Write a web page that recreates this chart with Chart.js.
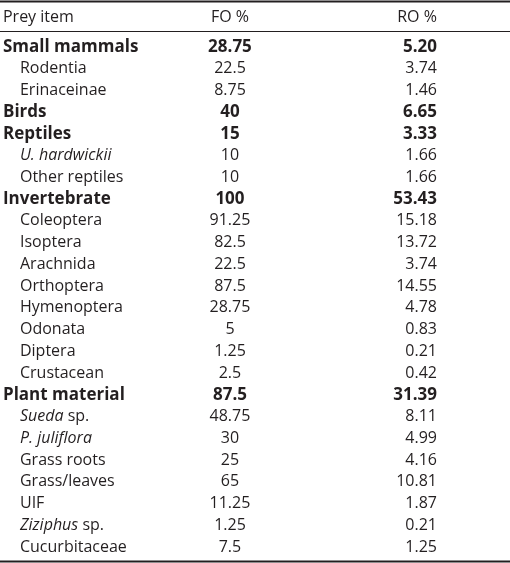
<!DOCTYPE html>
<html>
<head>
<meta charset="utf-8">
<script src="https://cdn.jsdelivr.net/npm/chart.js@4.4.1/dist/chart.umd.min.js"></script>
<style>
  html, body { margin: 0; padding: 0; background: #fff; }
  #wrap { width: 510px; height: 563px; }
</style>
</head>
<body>
<div id="wrap"><canvas id="dietTable" width="510" height="563"></canvas></div>
<script>
// Column headings
const columnHeaders = ['Prey item', 'FO %', 'RO %'];

// Row labels (prey items)
const preyItems = [
    'Small mammals', 'Rodentia', 'Erinaceinae',
    'Birds',
    'Reptiles', 'U. hardwickii', 'Other reptiles',
    'Invertebrate', 'Coleoptera', 'Isoptera', 'Arachnida', 'Orthoptera',
    'Hymenoptera', 'Odonata', 'Diptera', 'Crustacean',
    'Plant material', 'Sueda sp.', 'P. juliflora', 'Grass roots',
    'Grass/leaves', 'UIF', 'Ziziphus sp.', 'Cucurbitaceae'
];

// Frequency of occurrence (%)
const foValues = [
    28.75, 22.5, 8.75,
    40,
    15, 10, 10,
    100, 91.25, 82.5, 22.5, 87.5, 28.75, 5, 1.25, 2.5,
    87.5, 48.75, 30, 25, 65, 11.25, 1.25, 7.5
];

// Relative occurrence (%)
const roValues = [
    5.20, 3.74, 1.46,
    6.65,
    3.33, 1.66, 1.66,
    53.43, 15.18, 13.72, 3.74, 14.55, 4.78, 0.83, 0.21, 0.42,
    31.39, 8.11, 4.99, 4.16, 10.81, 1.87, 0.21, 1.25
];

// Main groups (bold rows)
const groupItems = ['Small mammals', 'Birds', 'Reptiles', 'Invertebrate', 'Plant material'];

// Part of the name set in italics (scientific names)
const italicParts = {
    'U. hardwickii': 'U. hardwickii',
    'Sueda sp.': 'Sueda',
    'P. juliflora': 'P. juliflora',
    'Ziziphus sp.': 'Ziziphus'
};

const FONT = '"Open Sans", "Liberation Sans", sans-serif';
const FONT_SIZE = 16;
const BOLD_SIZE = 17;
const TEXT_COLOR = '#231f20';

function cellFont(bold) {
    return bold ? `bold ${BOLD_SIZE}px ${FONT}` : `${FONT_SIZE}px ${FONT}`;
}

/**
 * Dibuja el texto de cada celda en la posición de su punto
 */
const tableTextPlugin = {
    id: 'tableText',
    afterDatasetsDraw(chart) {
        const ctx = chart.ctx;
        const xScale = chart.scales.x;
        ctx.save();
        ctx.fillStyle = TEXT_COLOR;
        ctx.textBaseline = 'middle';

        // filas de datos
        chart.data.datasets.forEach((ds, d) => {
            const meta = chart.getDatasetMeta(d);
            meta.data.forEach((pt, i) => {
                const name = preyItems[i];
                const bold = groupItems.includes(name);
                const text = ds.cellText[i];
                if (ds.column === 0) {
                    let x = pt.x + (bold ? -20 : -3);
                    ctx.textAlign = 'left';
                    const it = italicParts[name];
                    if (it) {
                        ctx.font = `italic ${FONT_SIZE}px ${FONT}`;
                        ctx.fillText(it, x, pt.y);
                        x += ctx.measureText(it).width;
                        ctx.font = cellFont(false);
                        ctx.fillText(name.slice(it.length), x, pt.y);
                    } else {
                        ctx.font = cellFont(bold);
                        ctx.fillText(name, x, pt.y);
                    }
                } else {
                    ctx.font = cellFont(bold);
                    ctx.textAlign = ds.column === 1 ? 'center' : 'right';
                    ctx.fillText(text, pt.x, pt.y);
                }
            });
        });

        // cabecera
        const headY = 17;
        ctx.font = cellFont(false);
        ctx.textAlign = 'left';
        ctx.fillText(columnHeaders[0], xScale.getPixelForValue(0) - 20, headY);
        ctx.textAlign = 'center';
        ctx.fillText(columnHeaders[1], xScale.getPixelForValue(1), headY);
        ctx.textAlign = 'right';
        ctx.fillText(columnHeaders[2], xScale.getPixelForValue(2), headY);

        // reglas horizontales
        ctx.fillStyle = '#231f20';
        ctx.fillRect(0, 0.5, chart.width, 2);
        ctx.fillRect(0, 31, chart.width, 1);
        ctx.fillRect(0, 560.5, chart.width, 2);
        ctx.restore();
    }
};

function buildDataset(column, texts) {
    return {
        column: column,
        cellText: texts,
        data: preyItems.map(p => ({ x: column, y: p })),
        pointRadius: 0,
        pointHoverRadius: 0,
        showLine: false
    };
}

function initDietTable() {
    const canvas = document.getElementById('dietTable');
    if (typeof Chart === 'undefined' || !canvas) {
        console.error('Chart.js o el canvas no están disponibles');
        return;
    }
    window.dietChart = new Chart(canvas, {
        type: 'scatter',
        data: {
            datasets: [
                buildDataset(0, preyItems),
                buildDataset(1, foValues.map(v => String(v))),
                buildDataset(2, roValues.map(v => v.toFixed(2)))
            ]
        },
        options: {
            responsive: false,
            animation: false,
            devicePixelRatio: 1,
            events: [],
            layout: { padding: { top: 36, bottom: 5, left: 0, right: 0 } },
            plugins: { legend: { display: false }, tooltip: { enabled: false } },
            scales: {
                x: { type: 'linear', min: -0.111, max: 2.353, display: false },
                y: { type: 'category', labels: preyItems, offset: true, display: false }
            }
        },
        plugins: [tableTextPlugin]
    });
}

initDietTable();
</script>
</body>
</html>
